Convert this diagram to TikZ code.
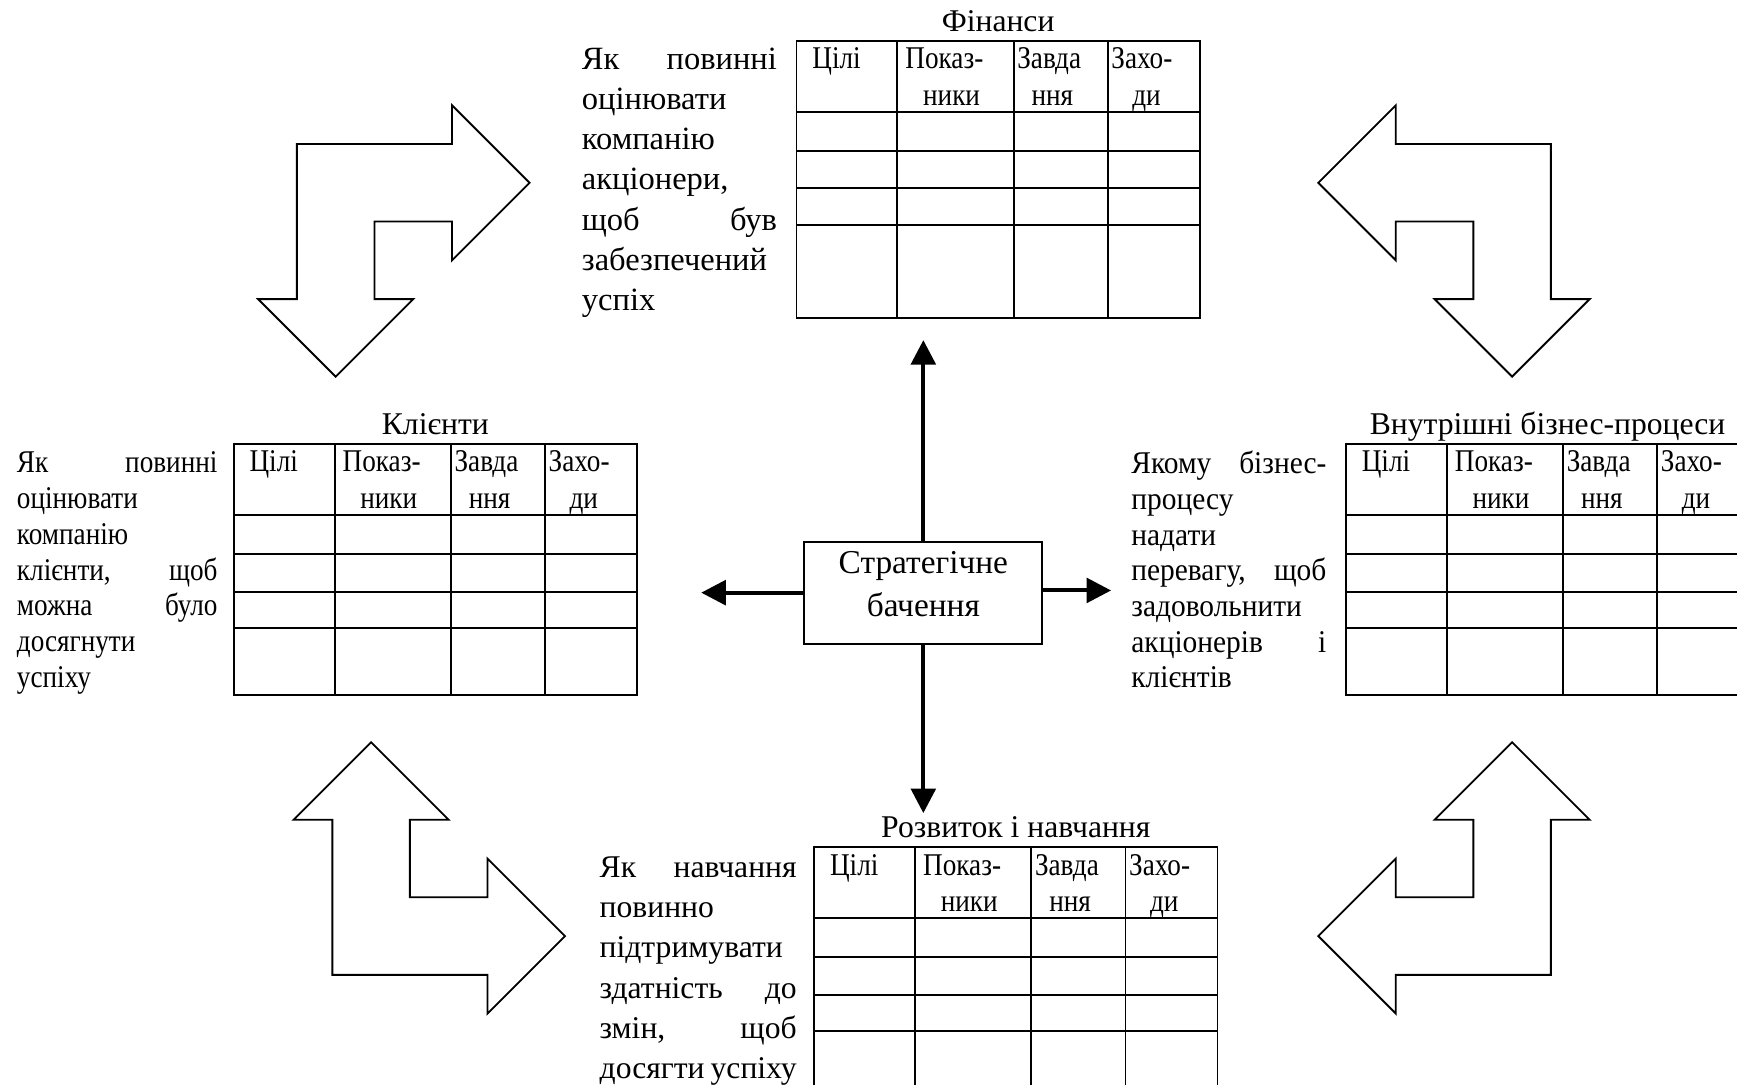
\documentclass[tikz,border=0pt]{standalone}
\usepackage{fontspec}
\setmainfont{Liberation Serif}
\newfontfamily\narrowserif{Liberation Serif}[FakeStretch=0.86]
\newfontfamily\semiserif{Liberation Serif}[FakeStretch=0.93]
\usetikzlibrary{arrows.meta}

\tikzset{
  tabline/.style={line width=1.1pt, line cap=rect},
  tabtitle/.style={anchor=base, inner sep=0pt, font=\fontsize{18}{22}\selectfont},
  tabhead/.style={inner sep=0pt, font=\narrowserif\fontsize{18}{22}\selectfont},
  question/.style={anchor=base west, inner sep=0pt, align=left},
  blockarrow/.style={line width=1.05pt, line join=miter},
  vecarrow/.style={line width=2.3pt, -{Triangle[length=14pt, width=14pt]}},
  visionbox/.style={draw, line width=1.1pt, minimum width=4.76cm, minimum height=2.04cm,
    inner sep=0pt, align=center, text height=26.8pt, text depth=0pt,
    font=\fontsize{19}{24.3}\selectfont},
}

% header of one goals table, in the table's own coordinates
\newcommand{\BscHeader}{%
  \node[tabhead, anchor=base west] (goal) at (14, 25) {Цілі};
  \node[tabhead, anchor=base west] (measure) at (\ColA+7, 25) {Показ-};
  \node[tabhead, anchor=base] (measureB) at (140, 58) {ники};
  \node[tabhead, anchor=base west] (target) at (\ColB+3, 25) {Завда};
  \node[tabhead, anchor=base] (targetB) at (231, 58) {ння};
  \node[tabhead, anchor=base west] (action) at (\ColC+3, 25) {Захо-};
  \node[tabhead, anchor=base] (actionB) at (316, 58) {ди};
}

% grid lines: rows run to #1, columns run down to #2
\newcommand{\BscGrid}[2]{%
  \draw[tabline] (0,0) -- (#1,0);
  \foreach \RowY in {\RowA,\RowB,\RowC,\RowD}
    \draw[tabline] (0,\RowY) -- (#1,\RowY);
  \foreach \ColX in {0,\ColA,\ColB,\ColC}
    \draw[tabline] (\ColX,0) -- (\ColX,#2);
}

\begin{document}
\begin{tikzpicture}[x=0.022156cm, y=-0.022156cm]
\useasboundingbox (0,0) rectangle (1568,979);

% _____ Table geometry
\def\TabW{364}
\def\ColA{91}
\def\ColB{196}
\def\ColC{281}
\def\RowA{64}
\def\RowB{99}
\def\RowC{133}
\def\RowD{166}
\def\TitleGap{9}

% _____ Finance
\def\FinX{719}
\def\FinY{37}
\def\FinH{250}
\begin{scope}[shift={(\FinX,\FinY)}, name prefix=fin-]
  \BscGrid{\TabW}{\FinH}
  \draw[tabline] (\TabW,0) -- (\TabW,\FinH) -- (0,\FinH);
  \BscHeader
  \node[tabtitle] (title) at (\TabW/2, -\TitleGap) {Фінанси};
\end{scope}
\node[question, text width=3.90cm, font=\fontsize{18.5}{22.8}\selectfont] (finQuestion) at (525, 63)
  {Як\hfill повинні\\ оцінювати\\ компанію\\ акціонери,\\ щоб\hfill був\\ забезпечений\\ успіх};

% _____ Clients
\def\CliX{211}
\def\CliY{401}
\def\CliH{226}
\begin{scope}[shift={(\CliX,\CliY)}, name prefix=cli-]
  \BscGrid{\TabW}{\CliH}
  \draw[tabline] (\TabW,0) -- (\TabW,\CliH) -- (0,\CliH);
  \BscHeader
  \node[tabtitle] (title) at (\TabW/2, -\TitleGap) {Клієнти};
\end{scope}
\node[question, text width=4.01cm, font=\narrowserif\fontsize{18}{20.4}\selectfont] (cliQuestion) at (15, 426.5)
  {Як\hfill повинні\\ оцінювати\\ компанію\\ клієнти,\hfill щоб\\ можна\hfill було\\ досягнути\\ успіху};

% _____ Internal business processes (runs off the right edge)
\def\ProcX{1215}
\def\ProcY{401}
\def\ProcH{226}
\def\ProcCut{360}
\begin{scope}[shift={(\ProcX,\ProcY)}, name prefix=proc-]
  \BscGrid{\ProcCut}{\ProcH}
  \draw[tabline] (0,\ProcH) -- (\ProcCut,\ProcH);
  \BscHeader
  \node[tabtitle] (title) at (\TabW/2, -\TitleGap) {Внутрішні бізнес-процеси};
\end{scope}
\node[question, text width=3.90cm, font=\semiserif\fontsize{18}{20.3}\selectfont] (procQuestion) at (1021, 427.7)
  {Якому\hfill бізнес-\\ процесу\\ надати\\ перевагу,\hfill щоб\\ задовольнити\\ акціонерів\hfill і\\ клієнтів};

% _____ Learning and growth (runs off the bottom edge)
\def\DevX{735}
\def\DevY{765}
\def\DevCut{230}
\begin{scope}[shift={(\DevX,\DevY)}, name prefix=dev-]
  \BscGrid{\TabW}{\DevCut}
  \draw[tabline] (\TabW,0) -- (\TabW,\DevCut);
  \BscHeader
  \node[tabtitle] (title) at (\TabW/2, -\TitleGap) {Розвиток і навчання};
\end{scope}
\node[question, text width=3.94cm, font=\fontsize{18}{22.9}\selectfont] (devQuestion) at (541, 792)
  {Як\hfill навчання\\ повинно\\ підтримувати\\ здатність\hfill до\\ змін,\hfill щоб\\ досягти\hfill успіху};

% _____ Strategic vision and its four arrows
\node[visionbox] (vision) at (833.5, 535) {Стратегічне\\бачення};

\coordinate (finTip) at (833.5, 307);
\coordinate (devTip) at (833.5, 734);
\coordinate (cliTip) at (633, 535);
\coordinate (procTip) at (1003, 533);

\draw[vecarrow] (vision.north) -- (finTip);
\draw[vecarrow] (vision.south) -- (devTip);
\draw[vecarrow] (vision.west) -- (cliTip);
\draw[vecarrow] (vision.east |- procTip) -- (procTip);

% _____ Block arrows between perspectives
\def\ArrowUnit{35}

\draw[blockarrow, shift={(268,130)}, xscale=\ArrowUnit, yscale=\ArrowUnit]
  (0,0) -- (4,0) -- (4,-1) -- (6,1) -- (4,3) -- (4,2) -- (2,2)
  -- (2,4) -- (3,4) -- (1,6) -- (-1,4) -- (0,4) -- cycle;

\draw[blockarrow, shift={(1400,130)}, xscale=-\ArrowUnit, yscale=\ArrowUnit]
  (0,0) -- (4,0) -- (4,-1) -- (6,1) -- (4,3) -- (4,2) -- (2,2)
  -- (2,4) -- (3,4) -- (1,6) -- (-1,4) -- (0,4) -- cycle;

\draw[blockarrow, shift={(300,880)}, xscale=\ArrowUnit, yscale=-\ArrowUnit]
  (0,0) -- (4,0) -- (4,-1) -- (6,1) -- (4,3) -- (4,2) -- (2,2)
  -- (2,4) -- (3,4) -- (1,6) -- (-1,4) -- (0,4) -- cycle;

\draw[blockarrow, shift={(1400,880)}, xscale=-\ArrowUnit, yscale=-\ArrowUnit]
  (0,0) -- (4,0) -- (4,-1) -- (6,1) -- (4,3) -- (4,2) -- (2,2)
  -- (2,4) -- (3,4) -- (1,6) -- (-1,4) -- (0,4) -- cycle;

\end{tikzpicture}
\end{document}
